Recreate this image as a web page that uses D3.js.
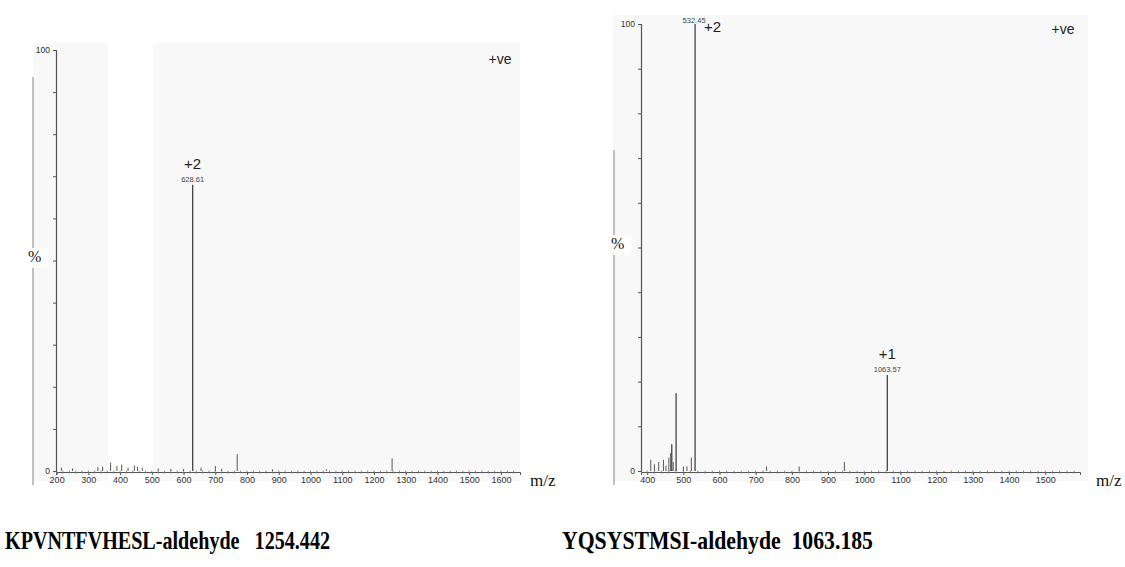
<!DOCTYPE html>
<html>
<head>
<meta charset="utf-8">
<script src="https://cdn.jsdelivr.net/npm/d3@7"></script>
<style>
  html, body { margin: 0; padding: 0; background: #fff; }
  svg { display: block; }
  .title { white-space: pre; }
</style>
</head>
<body>
<svg id="chart" width="1125" height="567"></svg>
<script>
// Spectrum 1: KPVNTFVHESL-aldehyde
const leftMz        = [628.61, 769, 1257, 370, 215, 250, 330, 345, 390, 405, 425, 445, 455, 470, 520, 560, 600, 655, 700, 720, 880, 1050];
const leftIntensity = [68,     4,   3,    2,   0.8, 0.6, 0.9, 1,   1.2, 1.5, 0.8, 1.3, 1,   0.7, 0.6, 0.5, 0.5, 0.8, 1.2, 0.5, 0.4, 0.4];
const leftTicks     = [200, 300, 400, 500, 600, 700, 800, 900, 1000, 1100, 1200, 1300, 1400, 1500, 1600];

// Spectrum 2: YQSYSTMSI-aldehyde
const rightMz        = [532.45, 480,  1063.57, 468, 522, 410, 420, 432, 445, 452, 460, 465, 472, 500, 510, 730, 820, 945];
const rightIntensity = [100,    17.4, 21.5,    6,   3,   2.5, 1.5, 2,   2.5, 1.2, 3,   4,   2,   1,   1,   1,   1,   2];
const rightTicks     = [400, 500, 600, 700, 800, 900, 1000, 1100, 1200, 1300, 1400, 1500];

// Annotated peaks: [mz, charge label, m/z label]
const leftLabels  = [[628.61, "+2", "628.61"]];
const rightLabels = [[532.45, "+2", "532.45"], [1063.57, "+1", "1063.57"]];

const titles = ["KPVNTFVHESL-aldehyde   1254.442", "YQSYSTMSI-aldehyde  1063.185"];

const svg = d3.select("#chart");
const sans = "Liberation Sans, Arial, sans-serif";
const serif = "Liberation Serif, Times New Roman, serif";

function panel(cfg) {
  const g = svg.append("g");
  // faint paper background
  cfg.bg.forEach(r => g.append("rect").attr("x", r[0]).attr("y", r[1])
    .attr("width", r[2]).attr("height", r[3]).attr("fill", "#f8f8f8"));
  // scan edge line
  g.append("line").attr("x1", cfg.edge[0]).attr("x2", cfg.edge[0])
    .attr("y1", cfg.edge[1]).attr("y2", cfg.edge[2])
    .attr("stroke", "#9a9a9a").attr("stroke-width", 1.2);

  const x = d3.scaleLinear().domain(cfg.xDomain).range(cfg.xRange);
  const y = d3.scaleLinear().domain([0, 100]).range(cfg.yRange);
  const y0 = y(0);

  // x axis
  const xa = g.append("g").attr("transform", `translate(0,${y0 + 1})`);
  xa.call(d3.axisBottom(x).tickValues(cfg.ticks).tickSize(3).tickFormat(d3.format("d")));
  xa.select(".domain").attr("stroke", "#555").attr("stroke-width", 1);
  xa.selectAll(".tick line").attr("stroke", "#555");
  xa.selectAll("text").attr("font-family", sans).attr("font-size", 9).attr("fill", "#333").attr("dy", "0.6em");
  const minor = d3.range(Math.ceil(cfg.xDomain[0] / 20) * 20, cfg.xDomain[1], 20);
  xa.selectAll(".minor").data(minor).enter().append("line")
    .attr("x1", d => x(d)).attr("x2", d => x(d)).attr("y1", -1.5).attr("y2", 1.5)
    .attr("stroke", "#777").attr("stroke-width", 0.8);

  // y axis
  const ya = g.append("g").attr("transform", `translate(${x(cfg.xDomain[0])},0)`);
  ya.call(d3.axisLeft(y).tickValues(d3.range(0, 101, 10)).tickSize(3).tickFormat(d => (d === 0 || d === 100) ? d : ""));
  ya.select(".domain").attr("stroke", "#555").attr("stroke-width", 1.2);
  ya.selectAll(".tick line").attr("stroke", "#555");
  ya.selectAll("text").attr("font-family", sans).attr("font-size", 8.5).attr("fill", "#333");

  // peaks
  const data = cfg.mz.map((m, i) => ({ m, v: cfg.int[i] }));
  g.selectAll(".peak").data(data).enter().append("line")
    .attr("x1", d => x(d.m)).attr("x2", d => x(d.m))
    .attr("y1", y0).attr("y2", d => y(d.v))
    .attr("stroke", "#444").attr("stroke-width", d => d.v > 5 ? 1.3 : 0.9);

  // peak annotations
  cfg.labels.forEach(l => {
    const px = x(l[0]);
    const v = cfg.int[cfg.mz.indexOf(l[0])];
    const py = y(v);
    if (v >= 99) {
      g.append("text").attr("x", px - 1).attr("y", py - 1).attr("text-anchor", "middle")
        .attr("font-family", sans).attr("font-size", 7.5).attr("fill", "#444").text(l[2]);
      g.append("text").attr("x", px + 9).attr("y", py + 8)
        .attr("font-family", sans).attr("font-size", 15).attr("fill", "#222").text(l[1]);
    } else {
      g.append("text").attr("x", px).attr("y", py - 3).attr("text-anchor", "middle")
        .attr("font-family", sans).attr("font-size", 7.5).attr("fill", "#444").text(l[2]);
      g.append("text").attr("x", px).attr("y", py - 16).attr("text-anchor", "middle")
        .attr("font-family", sans).attr("font-size", 15).attr("fill", "#222").text(l[1]);
    }
  });

  // +ve
  g.append("text").attr("x", cfg.ve[0]).attr("y", cfg.ve[1]).attr("text-anchor", "middle")
    .attr("font-family", sans).attr("font-size", 14).attr("fill", "#222").text("+ve");

  // % label with white backing
  g.append("rect").attr("x", cfg.pct[0] - 6).attr("y", cfg.pct[1] - 14)
    .attr("width", 26).attr("height", 20).attr("fill", "#fff");
  g.append("text").attr("x", cfg.pct[0]).attr("y", cfg.pct[1])
    .attr("font-family", serif).attr("font-size", 16).attr("fill", "#111").text("%");

  // m/z
  g.append("text").attr("x", cfg.mzLab[0]).attr("y", cfg.mzLab[1])
    .attr("font-family", serif).attr("font-size", 17).attr("fill", "#111").text("m/z");

  // title
  g.append("text").attr("class", "title").attr("x", cfg.title[0]).attr("y", cfg.title[1])
    .attr("font-family", serif).attr("font-weight", "bold").attr("font-size", 25)
    .attr("textLength", cfg.title[2]).attr("lengthAdjust", "spacingAndGlyphs")
    .attr("fill", "#000").text(cfg.title[3]);
}

panel({
  bg: [[33, 43, 75, 438], [153, 43, 367, 438]],
  edge: [33, 77, 485],
  xDomain: [198, 1660], xRange: [56, 520], yRange: [471, 50],
  ticks: leftTicks, mz: leftMz, int: leftIntensity, labels: leftLabels,
  ve: [500, 64], pct: [28, 262], mzLab: [530, 486],
  title: [5, 549, 325, titles[0]]
});

panel({
  bg: [[613, 15, 475, 466]],
  edge: [614, 150, 485],
  xDomain: [383, 1596], xRange: [641, 1080], yRange: [471, 24],
  ticks: rightTicks, mz: rightMz, int: rightIntensity, labels: rightLabels,
  ve: [1063, 34], pct: [611, 249], mzLab: [1096, 486],
  title: [562, 549, 311, titles[1]]
});
</script>
</body>
</html>
